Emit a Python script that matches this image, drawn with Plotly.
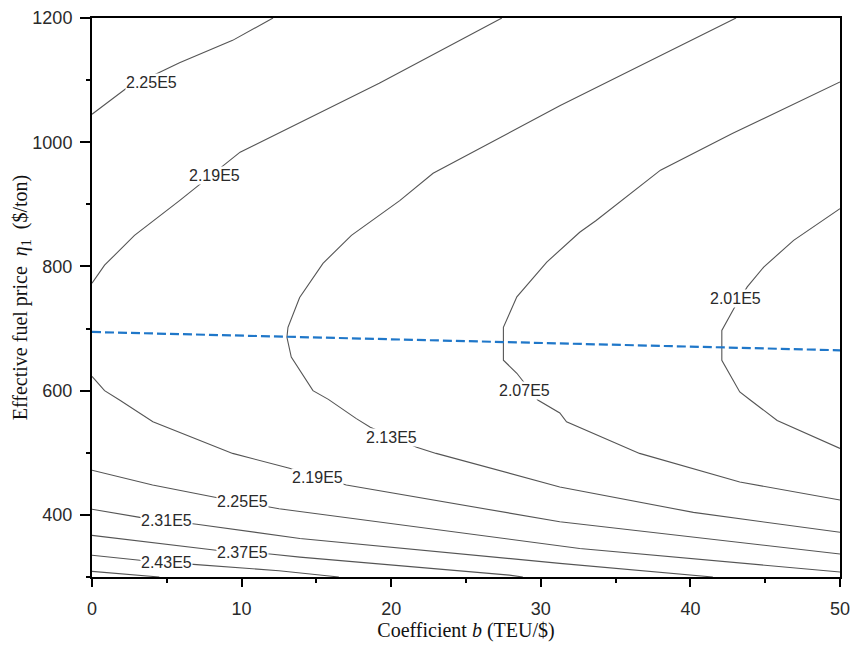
import plotly.graph_objects as go

# ---- contour lines (b, eta) ----
c225u_x = [0, 2.3, 5.85, 9.4, 12.1]
c225u_y = [1045, 1087, 1128, 1164, 1200]

c219u_x = [0, 0.84, 2.84, 4.74, 5.85, 9.9, 13.9, 19.2, 27.4]
c219u_y = [773, 802, 850, 885, 906, 984, 1032, 1095, 1200]

c213_x = [43.05, 31.3, 22.8, 20.57, 17.34, 15.44, 13.88, 13.1, 13.03, 13.32, 14.77, 15.8, 17.67, 18.6, 21.7, 23.0, 31.27, 40.2, 50]
c213_y = [1200, 1059, 950, 906, 850, 805, 750, 702, 686, 654, 600, 586, 555, 541, 509, 499, 445, 404, 372]

c207_x = [50, 42.8, 38.0, 33.7, 32.6, 30.4, 28.4, 27.5, 27.5, 28.4, 29.8, 31.27, 31.72, 36.6, 43.3, 50]
c207_y = [1097, 1014, 955, 874, 855, 807, 751, 702, 649, 628, 585, 564, 550, 499, 453, 424]

c201_x = [50, 48.85, 46.9, 44.9, 43.8, 42.9, 42.1, 42.1, 43.3, 44.0, 45.8, 50]
c201_y = [893, 874, 842, 799, 767, 732, 697, 649, 598, 585, 552, 507]

c219l_x = [0, 0.84, 1.84, 4.07, 9.4, 13.2, 17.0, 31.27, 50]
c219l_y = [623, 600, 585, 550, 499, 475, 448, 389, 337]

c225l_x = [0, 4.05, 8.3, 12.5, 32.6, 50]
c225l_y = [472, 448, 428, 410, 346, 308]

c231_x = [0, 3.2, 7.0, 13.9, 31.27, 40.6, 41.5]
c231_y = [409, 396, 385, 362, 322, 303, 300]

c237_x = [0, 8.3, 11.9, 13.9, 27.9, 28.8]
c237_y = [367, 343, 337, 332, 303, 300]

c243_x = [0, 3.2, 7.0, 12.5, 15.7, 16.5]
c243_y = [335, 327, 320, 310, 302, 300]

c249_x = [0, 3.4, 4.5]
c249_y = [309, 302, 300]

contours_x = [c225u_x, c219u_x, c213_x, c207_x, c201_x, c219l_x, c225l_x, c231_x, c237_x, c243_x, c249_x]
contours_y = [c225u_y, c219u_y, c213_y, c207_y, c201_y, c219l_y, c225l_y, c231_y, c237_y, c243_y, c249_y]

# ---- contour labels ----
label_text = ["2.25E5", "2.19E5", "2.01E5", "2.07E5", "2.13E5", "2.19E5", "2.25E5", "2.31E5", "2.37E5", "2.43E5"]
label_x = [4.0, 8.2, 43.0, 28.9, 20.0, 15.05, 10.03, 5.0, 10.03, 5.0]
label_y = [1096, 947, 748, 600, 525, 461, 421, 391, 340, 324]

# ---- dashed optimal line ----
dash_x = [0, 50]
dash_y = [694.5, 665]

x_title = "Coefficient <i>b</i> (TEU/$)"
y_title = "Effective fuel price  <i>η</i><sub>1</sub>  ($/ton)"

fig = go.Figure()
for xs, ys in zip(contours_x, contours_y):
    fig.add_trace(go.Scatter(x=xs, y=ys, mode="lines",
                             line=dict(color="#555555", width=1.1),
                             hoverinfo="skip", showlegend=False))

fig.add_trace(go.Scatter(x=dash_x, y=dash_y, mode="lines",
                         line=dict(color="#1f77c9", width=2.2, dash="9px,4px"),
                         showlegend=False))

for t, lx, ly in zip(label_text, label_x, label_y):
    fig.add_annotation(x=lx, y=ly, text=t, showarrow=False,
                       bgcolor="white", borderpad=0,
                       font=dict(family="Liberation Sans, Arial", size=16, color="#2a2a2a"))

# y axis title as a rotated annotation placed left of the tick labels
fig.add_annotation(xref="paper", yref="paper", x=-0.094, y=0.5,
                   xanchor="center", yanchor="middle", textangle=-90,
                   text=y_title, showarrow=False,
                   font=dict(family="Liberation Serif, Times New Roman", size=20, color="#111"))

fig.update_layout(
    width=852, height=646,
    margin=dict(l=92, r=12, t=18, b=69),
    paper_bgcolor="white", plot_bgcolor="white",
    showlegend=False,
    font=dict(family="Liberation Sans, Arial", size=18, color="#2a2a2a"),
)

fig.update_xaxes(
    automargin=False,
    range=[0, 50], dtick=10, tick0=0,
    showgrid=False, zeroline=False,
    showline=True, linecolor="black", linewidth=2, mirror=True,
    ticks="outside", ticklen=8, tickwidth=2, tickcolor="black",
    minor=dict(ticks="outside", ticklen=4, tickwidth=2, tickcolor="black", dtick=5),
    ticklabelstandoff=6,
    tickfont=dict(size=18),
    title=dict(text=x_title,
               font=dict(family="Liberation Serif, Times New Roman", size=20, color="#111"),
               standoff=2),
)
fig.update_yaxes(
    automargin=False,
    range=[300, 1200], dtick=200, tick0=0,
    showgrid=False, zeroline=False,
    showline=True, linecolor="black", linewidth=2, mirror=True,
    ticks="outside", ticklen=10, tickwidth=2, tickcolor="black",
    minor=dict(ticks="outside", ticklen=4, tickwidth=2, tickcolor="black", dtick=100),
    ticklabelstandoff=4,
    tickfont=dict(size=18),
)

fig.write_html("out.html", config={"displayModeBar": False},
               post_script="document.body.style.margin='0';document.body.style.overflow='hidden';")
